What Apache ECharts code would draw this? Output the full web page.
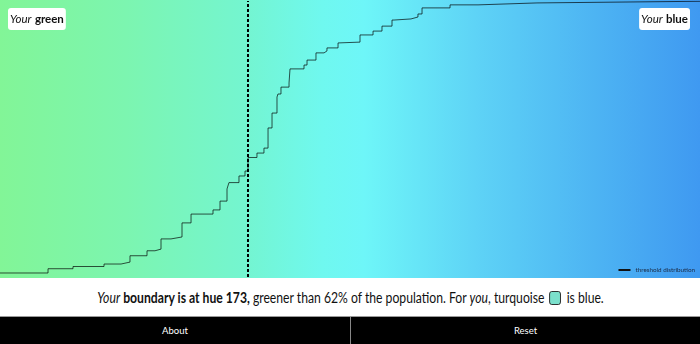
<!DOCTYPE html>
<html>
<head>
<meta charset="utf-8">
<script src="https://cdn.jsdelivr.net/npm/echarts@6/dist/echarts.min.js"></script>
<style>
  html, body { margin:0; padding:0; width:700px; height:344px; overflow:hidden; background:#fff; font-family: Lato, 'Open Sans', sans-serif; }
  #chart { position:absolute; left:0; top:0; width:700px; height:278px; }
  #msg { position:absolute; left:0; top:278px; width:700px; height:38px; line-height:38px; text-align:center; color:#111; }
  #msg span.t { display:inline-block; font-size:14.5px; transform:scaleX(0.84); transform-origin:center; white-space:nowrap; }
  #msg .sw { display:inline-block; width:12px; height:12px; background:#7be0cc; border:1.5px solid #222; border-radius:3px; vertical-align:-2px; margin:0 3px 0 2px; }
  #bar { position:absolute; left:0; top:316px; width:700px; height:28px; background:#000; border-top:1px solid #9a9a9a; box-sizing:border-box; }
  #bar div { position:absolute; top:0; height:27px; line-height:27px; width:350px; text-align:center; color:#fff; font-size:9.5px; }
  #bar .b2 { left:350px; border-left:1px solid #888; box-sizing:border-box; }
</style>
</head>
<body>
<div id="chart"></div>
<div id="msg"><span class="t"><i>Your</i> <b>boundary is at hue 173,</b> greener than 62% of the population. For <i>you</i>, turquoise <span class="sw"></span> is blue.</span></div>
<div id="bar"><div class="b1" style="left:0">About</div><div class="b2">Reset</div></div>
<script>
// threshold hues (start of each step) and cumulative share of population (%)
const hues = [150.00,154.46,156.78,159.66,161.24,162.07,163.65,164.39,164.95,165.88,166.90,167.74,169.78,170.43,171.08,171.26,172.19,172.75,173.03,173.86,174.51,174.89,175.26,175.72,175.81,176.09,176.84,176.93,178.23,178.51,179.34,180.09,180.36,181.39,181.57,183.43,184.64,185.47,186.40,186.59,188.16,188.81,189.19,191.79,194.39,199.86,215.00];
const shares = [1.45,3.0,3.8,4.7,5.4,7.7,9.5,10.1,13.8,14.5,19.6,22.8,24.3,27.5,31.9,34.2,36.6,38.4,43.3,44.9,46.7,54.0,59.4,65.2,66.3,68.8,70.3,75.4,76.8,78.6,81.2,81.9,83.0,84.8,85.1,87.7,89.1,90.9,93.1,93.5,94.2,95.3,97.5,98.6,99.3,99.9,99.9];
const userHue = 173;
const hueRange = [150, 215];
const bgStops = [
  [0.00, '#82f597'], [0.18, '#7cf5b0'], [0.35, '#74f5d0'], [0.46, '#6ff8ef'],
  [0.52, '#6ef6f8'], [0.68, '#5ed3f6'], [0.85, '#4db4f3'], [1.00, '#3f99f1']
];

const richLabel = {
  i: { fontStyle: 'italic', fontSize: 11.5, fontFamily: 'Lato', fill: '#111', lineHeight: 14 },
  b: { fontWeight: 'bold', fontSize: 11.5, fontFamily: 'Lato', fill: '#111', lineHeight: 14 }
};

const chart = echarts.init(document.getElementById('chart'));
chart.setOption({
  animation: false,
  grid: { left: 0, right: 0, top: 1, bottom: 1 },
  xAxis: { type: 'value', min: hueRange[0], max: hueRange[1], show: false },
  yAxis: { type: 'value', min: 0, max: 100, show: false },
  legend: {
    right: 5, bottom: 5, padding: 0, icon: 'rect', itemWidth: 12, itemHeight: 2, itemGap: 4,
    textStyle: { fontSize: 6.3, color: '#1a2a44', fontFamily: 'Lato' },
    data: ['threshold distribution']
  },
  graphic: [
    { type: 'rect', z: -10, silent: true, shape: { x: 0, y: 0, width: 700, height: 278 },
      style: { fill: new echarts.graphic.LinearGradient(0, 0, 1, 0, bgStops.map(s => ({ offset: s[0], color: s[1] }))) } },
    { type: 'text', left: 8, top: 8, z: 10,
      style: { text: '{i|Your} {b|green}', backgroundColor: '#fff', padding: [4, 2, 4, 2], borderRadius: 3, rich: richLabel } },
    { type: 'text', right: 10, top: 8, z: 10,
      style: { text: '{i|Your} {b|blue}', backgroundColor: '#fff', padding: [4, 2, 4, 2], borderRadius: 3, rich: richLabel } }
  ],
  series: [{
    name: 'threshold distribution', type: 'line', step: 'end',
    data: hues.map((h, i) => [h, shares[i]]),
    showSymbol: false, symbol: 'none',
    itemStyle: { color: '#111' },
    lineStyle: { color: 'rgba(0,0,0,0.68)', width: 1 },
    markLine: {
      silent: true, symbol: 'none', label: { show: false },
      lineStyle: { type: [3, 2], color: '#000', width: 2 },
      data: [{ xAxis: userHue }]
    }
  }]
});
</script>
</body>
</html>
